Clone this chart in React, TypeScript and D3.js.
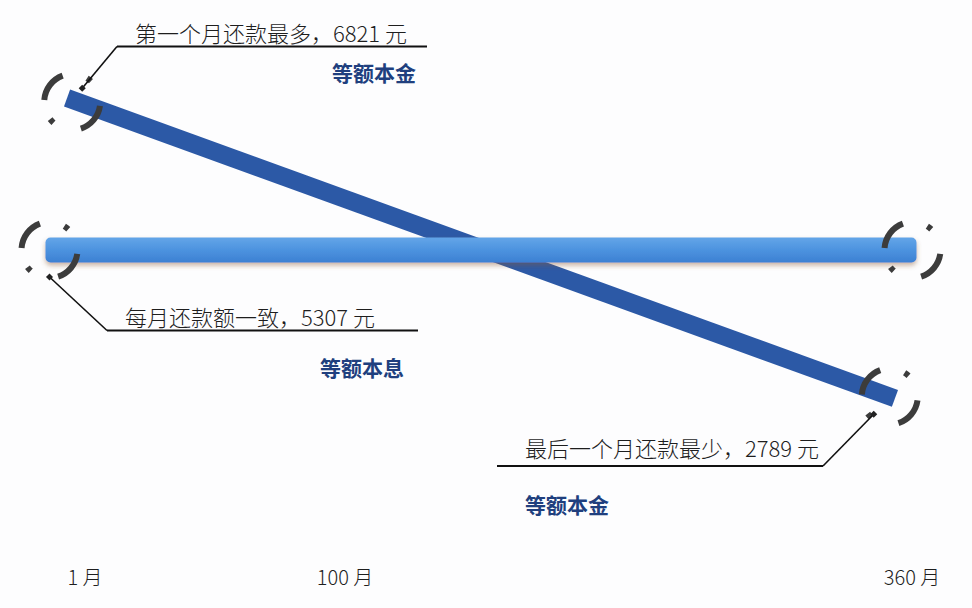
/**
 * RepaymentChart - D3.js infographic comparing the monthly payment of
 * 等额本金 (declining) and 等额本息 (flat) over a 360-month loan.
 */

import { useEffect, useRef } from 'react';
import * as d3 from 'd3';

const WIDTH = 972;
const HEIGHT = 608;

// Loan term endpoints (month index)
const months = [1, 360];
// 等额本金: payment falls from the first to the last month (元)
const principalValues = [6821, 2789];
// 等额本息: payment stays the same every month (元)
const annuityValues = [5307, 5307];

// Month axis labels
const tickMonths = [1, 100, 360];
const tickLabels = ['1 月', '100 月', '360 月'];

// Callouts: text, method name, and which series / end they point at
const calloutTexts = ['第一个月还款最多，6821 元', '每月还款额一致，5307 元', '最后一个月还款最少，2789 元'];
const calloutNames = ['等额本金', '等额本息', '等额本金'];
const calloutSeries = ['principal', 'annuity', 'principal'];
const calloutEnds = [0, 0, 1];

const FONT = '"Noto Sans CJK SC", "Noto Sans", sans-serif';
const DARK_BLUE = '#2c59a6';
const NAME_COLOR = '#203f7e';
const RING_COLOR = '#3c3c3c';

// Ring dash pattern, screen degrees (0 = right, clockwise)
const RING_SEGMENTS: [number, number][] = [
  [8, 72],
  [132, 142],
  [184, 250],
  [302, 312],
];

// Callout layout: leader leaves the ring at (angle, radius), bends at elbow, runs along the underline
const CALLOUT_LAYOUT = [
  { angle: 306, r: 17, elbow: [117, 46.5], lineEnd: 427, textX: 135, textY: 42, nameX: 332, nameY: 81 },
  { angle: 90, r: 27, elbow: [107, 330.5], lineEnd: 418, textX: 125, textY: 326, nameX: 320, nameY: 376 },
  { angle: 132, r: 24, elbow: [823, 466], lineEnd: 497, textX: 525, textY: 457, nameX: 525, nameY: 513 },
];

export default function App() {
  const svgRef = useRef<SVGSVGElement>(null);

  useEffect(() => {
    if (!svgRef.current) return;
    const svg = d3.select(svgRef.current);
    svg.selectAll('*').remove();

    const x = d3.scaleLinear().domain([months[0], months[1]]).range([60, 902]);
    // The picture is not to scale: the flat line sits mid-way between the two ends
    const y = d3.scaleLinear().domain([2789, 5307, 6821]).range([400.9, 250, 95.5]);
    // Month labels are spaced by the picture, not by the month count
    const xLabel = d3.scaleLinear().domain(tickMonths).range([85, 345, 912]);

    const defs = svg.append('defs');
    const grad = defs
      .append('linearGradient')
      .attr('id', 'flatGrad')
      .attr('x1', 0)
      .attr('y1', 0)
      .attr('x2', 0)
      .attr('y2', 1);
    grad.append('stop').attr('offset', '0%').attr('stop-color', '#63a5e8');
    grad.append('stop').attr('offset', '55%').attr('stop-color', '#4b91de');
    grad.append('stop').attr('offset', '100%').attr('stop-color', '#3c80d2');

    const shadow = defs
      .append('filter')
      .attr('id', 'barShadow')
      .attr('x', '-5%')
      .attr('y', '-50%')
      .attr('width', '110%')
      .attr('height', '220%');
    shadow
      .append('feDropShadow')
      .attr('dx', 0)
      .attr('dy', 3)
      .attr('stdDeviation', 2.5)
      .attr('flood-color', '#8a5a30')
      .attr('flood-opacity', 0.45);

    svg.append('rect').attr('width', WIDTH).attr('height', HEIGHT).attr('fill', '#fdfdfe');

    // Points along each series, with a unit direction for insets/extensions
    const seriesPts = (values: number[]) => {
      const p0: [number, number] = [x(months[0]), y(values[0])];
      const p1: [number, number] = [x(months[1]), y(values[1])];
      const len = Math.hypot(p1[0] - p0[0], p1[1] - p0[1]);
      const dir: [number, number] = [(p1[0] - p0[0]) / len, (p1[1] - p0[1]) / len];
      return { p0, p1, dir };
    };
    const principal = seriesPts(principalValues);
    const annuity = seriesPts(annuityValues);

    // 等额本金 bar: slanted, drawn first so the flat bar crosses over it
    const dInset = 7.5;
    svg
      .append('line')
      .attr('x1', principal.p0[0] + principal.dir[0] * dInset)
      .attr('y1', principal.p0[1] + principal.dir[1] * dInset)
      .attr('x2', principal.p1[0] - principal.dir[0] * dInset)
      .attr('y2', principal.p1[1] - principal.dir[1] * dInset)
      .attr('stroke', DARK_BLUE)
      .attr('stroke-width', 18);

    // 等额本息 bar: flat, rounded, gradient with a soft shadow
    const aExtend = 14.5;
    const barH = 25;
    svg
      .append('rect')
      .attr('x', annuity.p0[0] - aExtend)
      .attr('y', annuity.p0[1] - barH / 2)
      .attr('width', annuity.p1[0] - annuity.p0[0] + aExtend * 2)
      .attr('height', barH)
      .attr('rx', 5)
      .attr('fill', 'url(#flatGrad)')
      .attr('filter', 'url(#barShadow)');

    // Dashed rings around every end point
    const ringCenters: Record<string, [number, number][]> = {
      principal: [
        [principal.p0[0] + principal.dir[0] * 13, principal.p0[1] + principal.dir[1] * 13 + 2],
        [principal.p1[0] - principal.dir[0] * 13, principal.p1[1] - principal.dir[1] * 13],
      ],
      annuity: [
        [annuity.p0[0] - 10.5, annuity.p0[1]],
        [annuity.p1[0] + 10.5, annuity.p1[1]],
      ],
    };
    const ringArc = d3.arc().innerRadius(25).outerRadius(31);
    const toRad = (deg: number) => ((deg + 90) * Math.PI) / 180;
    Object.values(ringCenters).forEach(centers => {
      centers.forEach(c => {
        const g = svg.append('g').attr('transform', `translate(${c[0]}, ${c[1]})`);
        RING_SEGMENTS.forEach(([a0, a1]) => {
          g.append('path')
            .attr('d', ringArc({ startAngle: toRad(a0), endAngle: toRad(a1) } as any))
            .attr('fill', RING_COLOR);
        });
      });
    });

    // Callouts
    calloutTexts.forEach((text, i) => {
      const L = CALLOUT_LAYOUT[i];
      const c = ringCenters[calloutSeries[i]][calloutEnds[i]];
      const rad = (L.angle * Math.PI) / 180;
      const start: [number, number] = [c[0] + Math.cos(rad) * L.r, c[1] + Math.sin(rad) * L.r];

      svg
        .append('line')
        .attr('x1', start[0])
        .attr('y1', start[1])
        .attr('x2', L.elbow[0])
        .attr('y2', L.elbow[1])
        .attr('stroke', '#111111')
        .attr('stroke-width', 1.6);
      svg
        .append('line')
        .attr('x1', L.elbow[0])
        .attr('y1', L.elbow[1])
        .attr('x2', L.lineEnd)
        .attr('y2', L.elbow[1])
        .attr('stroke', '#111111')
        .attr('stroke-width', 2);
      // small square tip where the leader meets the ring
      svg
        .append('rect')
        .attr('x', start[0] - 2.5)
        .attr('y', start[1] - 2.5)
        .attr('width', 5)
        .attr('height', 5)
        .attr('fill', '#222222')
        .attr('transform', `rotate(45, ${start[0]}, ${start[1]})`);

      svg
        .append('text')
        .attr('x', L.textX)
        .attr('y', L.textY)
        .attr('font-family', FONT)
        .attr('font-size', '22px')
        .attr('font-weight', 300)
        .attr('fill', '#1e1e1e')
        .text(text);

      svg
        .append('text')
        .attr('x', L.nameX)
        .attr('y', L.nameY)
        .attr('font-family', FONT)
        .attr('font-size', '21px')
        .attr('font-weight', 700)
        .attr('fill', NAME_COLOR)
        .text(calloutNames[i]);
    });

    // Month labels
    svg
      .append('g')
      .selectAll('text')
      .data(tickMonths)
      .enter()
      .append('text')
      .attr('x', (d: number) => xLabel(d))
      .attr('y', 585)
      .attr('text-anchor', 'middle')
      .attr('font-family', FONT)
      .attr('font-size', '20px')
      .attr('font-weight', 300)
      .attr('fill', '#1e1e1e')
      .text((_d: number, i: number) => tickLabels[i]);

    return () => {
      svg.selectAll('*').remove();
    };
  }, []);

  return (
    <div style={{ position: 'absolute', left: 0, top: 0, width: WIDTH, height: HEIGHT }}>
      <svg ref={svgRef} width={WIDTH} height={HEIGHT} style={{ display: 'block' }} />
    </div>
  );
}
